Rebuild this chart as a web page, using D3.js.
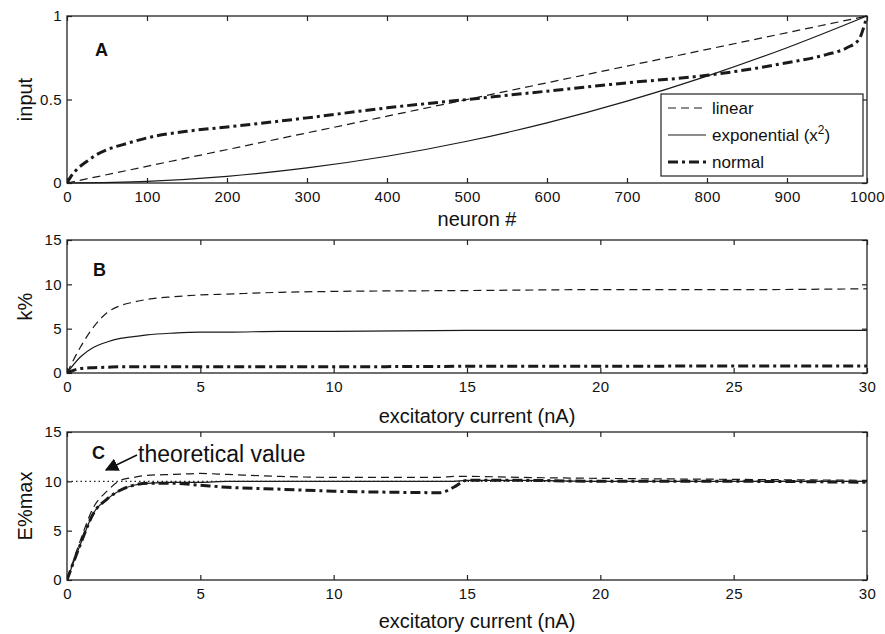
<!DOCTYPE html>
<html>
<head>
<meta charset="utf-8">
<script src="https://cdn.jsdelivr.net/npm/d3@7"></script>
<style>
  body { margin: 0; background: #fff; }
  svg text { font-family: "Liberation Sans", Arial, sans-serif; fill: #111; }
  .tick text { font-size: 15px; letter-spacing: 0.4px; }
</style>
</head>
<body>
<div id="chart"></div>
<script>
const width = 885;
const height = 634;
const left = 67, right = 867;

// panel A : input vs neuron #
var neuronTicks = [0, 100, 200, 300, 400, 500, 600, 700, 800, 900, 1000];
var inputTicks = [0, 0.5, 1];
var linX = [0, 1000];
var linY = [0, 1];
var expX = [0, 100, 200, 300, 400, 500, 600, 700, 800, 900, 1000];
var expY = [0, 0.01, 0.04, 0.09, 0.16, 0.25, 0.36, 0.49, 0.64, 0.81, 1];
var normX = [0, 5, 12, 25, 37, 50, 70, 100, 150, 200, 300, 400, 500, 600, 700, 800, 900, 950, 975, 990, 997, 1000];
var normY = [0, 0.04, 0.08, 0.13, 0.17, 0.2, 0.23, 0.27, 0.31, 0.335, 0.39, 0.45, 0.5, 0.55, 0.6, 0.645, 0.72, 0.77, 0.81, 0.86, 0.95, 1];

// panel B : k% vs excitatory current
var currentTicks = [0, 5, 10, 15, 20, 25, 30];
var pctTicks = [0, 5, 10, 15];
var kX = [0, 0.5, 1, 1.5, 2, 2.5, 3, 4, 5, 6, 8, 10, 15, 20, 25, 30];
var kLinear = [0, 2.9, 5.2, 6.8, 7.6, 8.0, 8.3, 8.6, 8.8, 8.9, 9.1, 9.2, 9.3, 9.4, 9.4, 9.5];
var kExp = [0, 1.8, 2.9, 3.5, 3.9, 4.1, 4.3, 4.5, 4.6, 4.6, 4.7, 4.7, 4.8, 4.8, 4.8, 4.8];
var kNorm = [0, 0.5, 0.6, 0.65, 0.7, 0.7, 0.7, 0.7, 0.7, 0.7, 0.7, 0.7, 0.75, 0.75, 0.8, 0.8];

// panel C : E%max vs excitatory current
var eX = [0, 0.5, 1, 1.5, 2, 2.5, 3, 4, 5, 6, 8, 10, 12, 14, 14.5, 15, 17, 20, 25, 30];
var eLinear = [0, 4.0, 7.4, 9.0, 10.1, 10.4, 10.6, 10.7, 10.8, 10.7, 10.5, 10.4, 10.4, 10.4, 10.5, 10.5, 10.4, 10.3, 10.2, 10.1];
var eExp = [0, 3.6, 6.8, 8.2, 9.1, 9.6, 9.8, 9.9, 9.9, 10.0, 10.0, 10.0, 10.0, 10.0, 10.0, 10.1, 10.1, 10.0, 10.0, 10.0];
var eNorm = [0, 3.6, 6.8, 8.2, 9.1, 9.6, 9.8, 9.8, 9.6, 9.4, 9.2, 9.0, 8.9, 8.85, 9.4, 10.1, 10.1, 10.0, 10.0, 9.9];
var theoretical = 10;

var legendNames = ["linear", "exponential", "normal"];

const styles = {
  linear: { dash: "8,5", w: 1.2 },
  exponential: { dash: null, w: 1.2 },
  normal: { dash: "10,4,3,4", w: 3 }
};

const svg = d3.select('#chart').append('svg')
  .attr('width', width)
  .attr('height', height);

function zip(xs, ys) { return xs.map((x, i) => ({ x: x, y: ys[i] })); }

function drawPanel(cfg) {
  var x = d3.scaleLinear().domain(cfg.xDomain).range([left, right]);
  var y = d3.scaleLinear().domain(cfg.yDomain).range([cfg.bottom, cfg.top]);
  var g = svg.append('g');

  // bottom / left axes with inward ticks
  var xAxis = g.append('g')
    .attr('transform', `translate(0,${cfg.bottom})`)
    .call(d3.axisBottom(x).tickValues(cfg.xTicks).tickSize(-5).tickPadding(7).tickFormat(d3.format('')));
  var yAxis = g.append('g')
    .attr('transform', `translate(${left},0)`)
    .call(d3.axisLeft(y).tickValues(cfg.yTicks).tickSize(-5).tickPadding(5).tickFormat(d3.format('')));
  // top / right tick marks
  var xTop = g.append('g')
    .attr('transform', `translate(0,${cfg.top})`)
    .call(d3.axisTop(x).tickValues(cfg.xTicks).tickSize(-5).tickFormat(''));
  var yRight = g.append('g')
    .attr('transform', `translate(${right},0)`)
    .call(d3.axisRight(y).tickValues(cfg.yTicks).tickSize(-5).tickFormat(''));
  [xAxis, yAxis, xTop, yRight].forEach(a => {
    a.select('.domain').remove();
    a.selectAll('line').attr('stroke', '#222').attr('stroke-width', 1.2);
  });
  xAxis.selectAll('text').attr('dy', '0.8em');

  g.append('rect')
    .attr('x', left).attr('y', cfg.top)
    .attr('width', right - left).attr('height', cfg.bottom - cfg.top)
    .attr('fill', 'none').attr('stroke', '#222').attr('stroke-width', 1.3);

  var line = d3.line().x(d => x(d.x)).y(d => y(d.y)).curve(d3.curveMonotoneX);
  var clipId = 'clip' + cfg.letter;
  g.append('clipPath').attr('id', clipId).append('rect')
    .attr('x', left).attr('y', cfg.top - 2).attr('width', right - left + 1).attr('height', cfg.bottom - cfg.top + 3);

  cfg.series.forEach(s => {
    var st = styles[s.name];
    g.append('path')
      .attr('clip-path', `url(#${clipId})`)
      .attr('d', line(zip(s.xs, s.ys)))
      .attr('fill', 'none')
      .attr('stroke', '#1a1a1a')
      .attr('stroke-width', st.w)
      .attr('stroke-dasharray', st.dash);
  });

  // panel letter
  g.append('text').attr('x', cfg.letterX).attr('y', cfg.letterY)
    .style('font-size', '18px').style('font-weight', 'bold').text(cfg.letter);

  // axis labels
  g.append('text').attr('x', 477).attr('y', cfg.xLabelY)
    .attr('text-anchor', 'middle').style('font-size', '20px').text(cfg.xLabel);
  g.append('text')
    .attr('transform', `translate(32,${(cfg.top + cfg.bottom) / 2}) rotate(-90)`)
    .attr('text-anchor', 'middle').style('font-size', '20px').text(cfg.yLabel);

  return { g: g, x: x, y: y };
}

// Panel A
var pA = drawPanel({
  letter: 'A', letterX: 95, letterY: 56,
  top: 16, bottom: 183,
  xDomain: [0, 1000], yDomain: [0, 1],
  xTicks: neuronTicks, yTicks: inputTicks,
  xLabel: 'neuron #', xLabelY: 226, yLabel: 'input',
  series: [
    { name: 'linear', xs: linX, ys: linY },
    { name: 'exponential', xs: expX, ys: expY },
    { name: 'normal', xs: normX, ys: normY }
  ]
});

// legend
var leg = pA.g.append('g');
leg.append('rect').attr('x', 661).attr('y', 94).attr('width', 202).attr('height', 82)
  .attr('fill', '#fff').attr('stroke', '#222').attr('stroke-width', 1.2);
legendNames.forEach((name, i) => {
  var cy = 108 + i * 27;
  var st = styles[name];
  leg.append('line').attr('x1', 668).attr('x2', 706).attr('y1', cy).attr('y2', cy)
    .attr('stroke', '#1a1a1a').attr('stroke-width', st.w).attr('stroke-dasharray', st.dash);
  var t = leg.append('text').attr('x', 712).attr('y', cy + 6).style('font-size', '17px');
  if (name === 'exponential') {
    t.text('exponential (x');
    t.append('tspan').attr('dy', -7).style('font-size', '12px').text('2');
    t.append('tspan').attr('dy', 7).text(')');
  } else {
    t.text(name);
  }
});

// Panel B
drawPanel({
  letter: 'B', letterX: 93, letterY: 276,
  top: 240, bottom: 373,
  xDomain: [0, 30], yDomain: [0, 15],
  xTicks: currentTicks, yTicks: pctTicks,
  xLabel: 'excitatory current (nA)', xLabelY: 423, yLabel: 'k%',
  series: [
    { name: 'linear', xs: kX, ys: kLinear },
    { name: 'exponential', xs: kX, ys: kExp },
    { name: 'normal', xs: kX, ys: kNorm }
  ]
});

// Panel C
var pC = drawPanel({
  letter: 'C', letterX: 92, letterY: 459,
  top: 432, bottom: 580,
  xDomain: [0, 30], yDomain: [0, 15],
  xTicks: currentTicks, yTicks: pctTicks,
  xLabel: 'excitatory current (nA)', xLabelY: 628, yLabel: 'E%max',
  series: [
    { name: 'linear', xs: eX, ys: eLinear },
    { name: 'exponential', xs: eX, ys: eExp },
    { name: 'normal', xs: eX, ys: eNorm }
  ]
});

// theoretical value dotted line
pC.g.append('line')
  .attr('x1', pC.x(0)).attr('x2', pC.x(30))
  .attr('y1', pC.y(theoretical)).attr('y2', pC.y(theoretical))
  .attr('stroke', '#222').attr('stroke-width', 1.3).attr('stroke-dasharray', '1.5,3');

// annotation with arrow
svg.append('defs').append('marker')
  .attr('id', 'arrow').attr('viewBox', '0 0 10 10').attr('refX', 9).attr('refY', 5)
  .attr('markerWidth', 9).attr('markerHeight', 9).attr('orient', 'auto-start-reverse')
  .append('path').attr('d', 'M0,0 L10,5 L0,10 z').attr('fill', '#111');
pC.g.append('line')
  .attr('x1', 137).attr('y1', 455).attr('x2', 106).attr('y2', 470)
  .attr('stroke', '#111').attr('stroke-width', 1.5).attr('marker-end', 'url(#arrow)');
pC.g.append('text').attr('x', 138).attr('y', 462)
  .style('font-size', '23px').text('theoretical value');
</script>
</body>
</html>
